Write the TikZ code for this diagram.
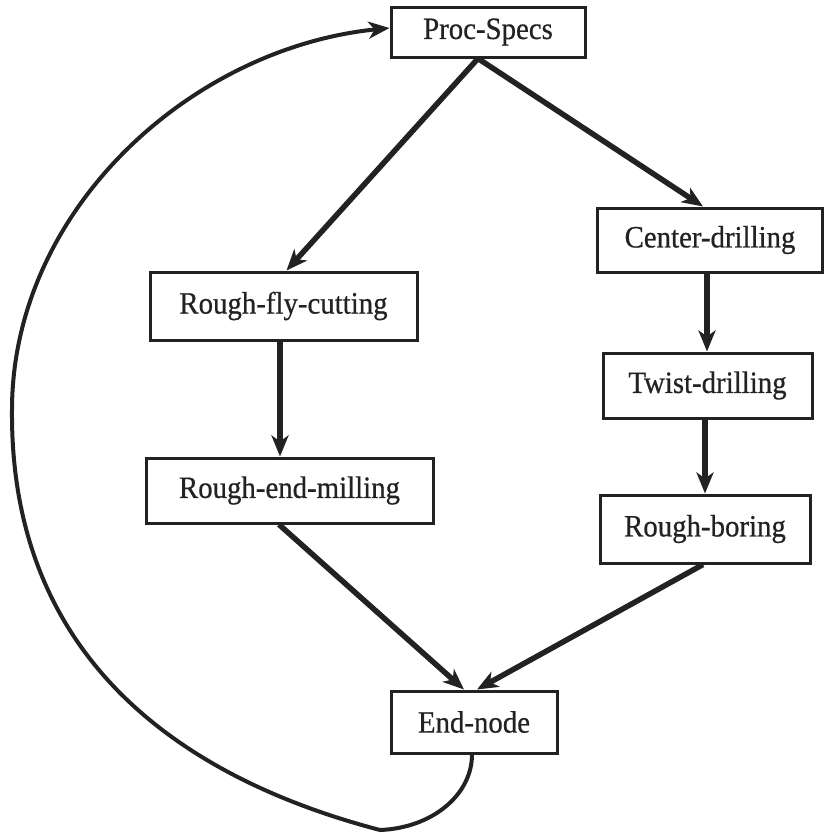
\documentclass[tikz,border=0pt]{standalone}
\usepackage{fontspec}
\setmainfont[FakeStretch=0.93,FakeBold=0.6]{Liberation Serif}
\usetikzlibrary{arrows.meta}
\definecolor{ink}{HTML}{222222}
\tikzset{
  box/.style={draw=ink, line width=3pt, fill=white, inner sep=0pt,
    font=\fontsize{31}{33}\selectfont, text=ink},
  flow/.style={draw=ink, line width=5.5pt,
    -{Stealth[length=21pt,width=17pt,inset=6pt]}},
  loopflow/.style={draw=ink, line width=4pt,
    -{Stealth[length=21pt,width=17pt,inset=6pt]}}
}
\begin{document}
\begin{tikzpicture}[x=1pt,y=-1pt]
\useasboundingbox (0,0) rectangle (826,833);
\node[box, minimum width=194pt, minimum height=50pt] (ps) at (488,32) {Proc-Specs};
\node[box, minimum width=225pt, minimum height=64pt] (cd) at (710,240) {Center-drilling};
\node[box, minimum width=267pt, minimum height=68pt] (rfc) at (283.5,306) {Rough-fly-cutting};
\node[box, minimum width=287pt, minimum height=65pt] (rem) at (289.5,490.5) {Rough-end-milling};
\node[box, minimum width=209pt, minimum height=65pt] (td) at (707.5,385.5) {Twist-drilling};
\node[box, minimum width=210pt, minimum height=68pt] (rb) at (705,529) {Rough-boring};
\node[box, minimum width=166pt, minimum height=62pt] (en) at (474,722) {End-node};

\draw[flow] ([xshift=-10pt]ps.south) -- ([xshift=3pt]rfc.north);
\draw[flow] ([xshift=-10pt]ps.south) -- ([xshift=-7pt]cd.north);
\draw[flow] ([xshift=-3pt]cd.south) -- ([xshift=-0.5pt]td.north);
\draw[flow] ([xshift=-3.5pt]rfc.south) -- ([xshift=-9.5pt]rem.north);
\draw[flow] ([xshift=-2.5pt]td.south) -- (rb.north);
\draw[flow] ([xshift=-10.5pt]rem.south) -- ([xshift=-10pt]en.north);
\draw[flow] ([xshift=-2pt]rb.south) -- ([xshift=3pt]en.north);
\draw[loopflow] ([xshift=-2pt]en.south) .. controls (472,795) and (432,828) .. (380,830)
  .. controls (170,775) and (10,650) .. (12,410)
  .. controls (12,210) and (191,48) .. ([yshift=4pt]ps.west);
\end{tikzpicture}
\end{document}
